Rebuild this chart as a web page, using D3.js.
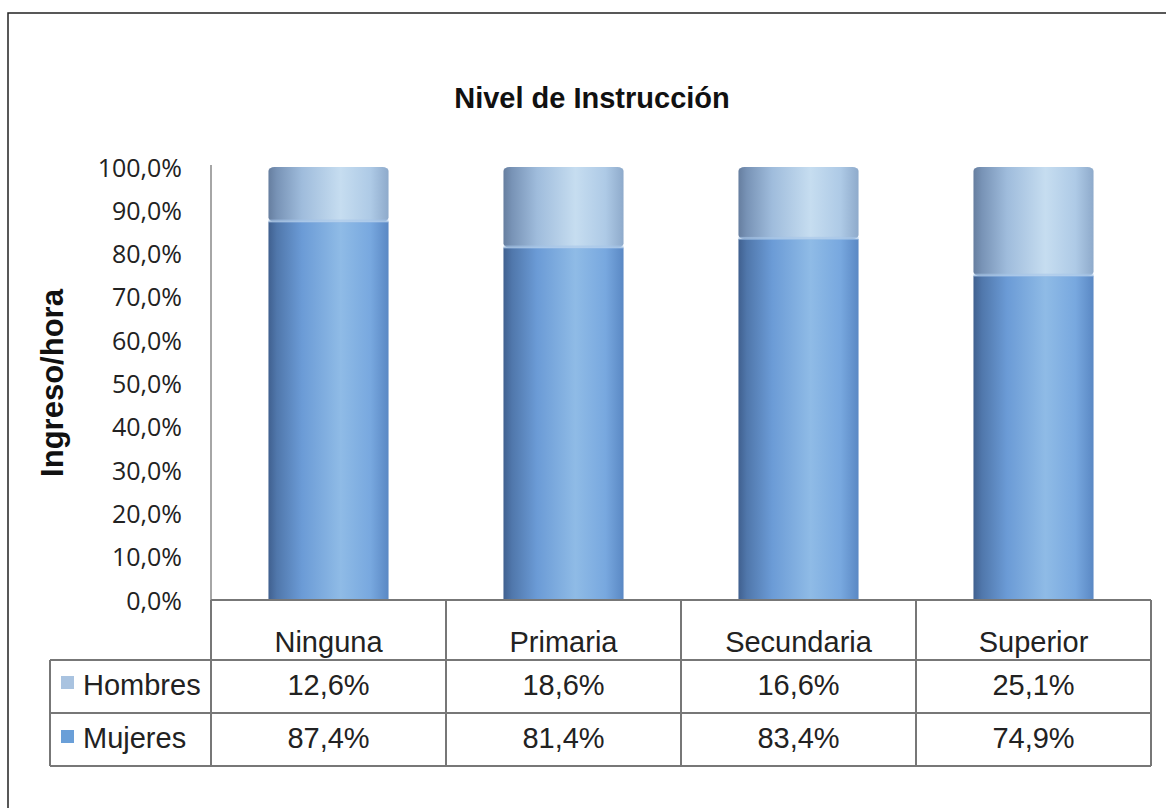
<!DOCTYPE html>
<html><head><meta charset="utf-8">
<script src="https://cdn.jsdelivr.net/npm/d3@7"></script>
<style>body{margin:0;background:#fff}svg{display:block}</style>
</head><body>
<script>
const categories = ["Ninguna","Primaria","Secundaria","Superior"];
const series = ["Hombres","Mujeres"];
const hombres = [12.6, 18.6, 16.6, 25.1];
const mujeres = [87.4, 81.4, 83.4, 74.9];
const yTicks = [0,10,20,30,40,50,60,70,80,90,100];
const title = "Nivel de Instrucción";
const yTitle = "Ingreso/hora";

const W=1166,H=808;
const svg=d3.select("body").append("svg").attr("width",W).attr("height",H);
svg.append("rect").attr("x",8).attr("y",13).attr("width",W+10).attr("height",H+10).attr("fill","#fff").attr("stroke","#222").attr("stroke-width",1.5);

const x=d3.scaleBand().domain(categories).range([211,1151]).paddingInner(0.489).paddingOuter(0.2445);
const y=d3.scaleLinear().domain([0,100]).range([600,167]);
const defs=svg.append("defs");
function grad(id,stops){const g=defs.append("linearGradient").attr("id",id).attr("x1",0).attr("x2",1).attr("y1",0).attr("y2",0);
 stops.forEach(s=>g.append("stop").attr("offset",s[0]).attr("stop-color",s[1]));}
grad("gM",[[0,"#40608f"],[0.07,"#5077ab"],[0.28,"#6b9bd6"],[0.6,"#8fbbe6"],[0.85,"#78a8df"],[1,"#5a88c4"]]);
grad("gH",[[0,"#667e9f"],[0.07,"#7893b6"],[0.28,"#9fbcdc"],[0.6,"#c6ddf0"],[0.85,"#aecaE6"],[1,"#8eaacb"]]);

// axis
svg.append("line").attr("x1",211).attr("x2",211).attr("y1",165).attr("y2",767).attr("stroke","#888").attr("stroke-width",1.5);
const fmt=v=>v.toFixed(1).replace(".",",")+"%";
svg.selectAll(".tk").data(yTicks).enter().append("text")
 .attr("x",182).attr("y",d=>y(d)+9.5).attr("text-anchor","end")
 .attr("font-family","Open Sans, sans-serif").attr("font-size",25).attr("fill","#222").text(fmt);

// bars
const bw=x.bandwidth();
const g=svg.append("g");
categories.forEach((c,i)=>{
  const x0=x(c);
  g.append("rect").attr("x",x0).attr("y",y(mujeres[i])).attr("width",bw).attr("height",y(0)-y(mujeres[i])).attr("fill","url(#gM)");
  g.append("rect").attr("x",x0).attr("y",y(100)).attr("width",bw).attr("height",y(mujeres[i])-y(100)).attr("fill","url(#gH)").attr("rx",6).attr("ry",4);
  g.append("rect").attr("x",x0).attr("y",y(mujeres[i])-2).attr("width",bw).attr("height",3).attr("fill","#a6c6ea").attr("opacity",0.6);
});

// table
const gridC="#777";
const tl=50;
svg.append("line").attr("x1",211).attr("x2",1151).attr("y1",600).attr("y2",600).attr("stroke",gridC).attr("stroke-width",2);
[660,713,766].forEach(yy=>svg.append("line").attr("x1",tl).attr("x2",1151).attr("y1",yy).attr("y2",yy).attr("stroke",gridC).attr("stroke-width",2));
svg.append("line").attr("x1",tl).attr("x2",tl).attr("y1",660).attr("y2",766).attr("stroke",gridC).attr("stroke-width",2);
[211].concat(categories.map(c=>x(c)+bw/2+x.step()/2)).forEach(xx=>svg.append("line").attr("x1",xx).attr("x2",xx).attr("y1",600).attr("y2",766).attr("stroke",gridC).attr("stroke-width",2));
const tf="Liberation Sans, Arial, sans-serif";
svg.selectAll(".cat").data(categories).enter().append("text").attr("x",d=>x(d)+bw/2).attr("y",652)
 .attr("text-anchor","middle").attr("font-family",tf).attr("font-size",29).attr("fill","#222").text(d=>d);
const vals=[hombres,mujeres];
const rowY=[695,748];
series.forEach((s,j)=>{
  svg.append("text").attr("x",83).attr("y",rowY[j]).attr("font-family",tf).attr("font-size",29).attr("fill","#222").text(s);
  categories.forEach((c,i)=>svg.append("text").attr("x",x(c)+bw/2).attr("y",rowY[j]).attr("text-anchor","middle")
    .attr("font-family",tf).attr("font-size",29).attr("fill","#222").text(vals[j][i].toFixed(1).replace(".",",")+"%"));
});
svg.append("rect").attr("x",61).attr("y",676).attr("width",13).attr("height",13).attr("fill","#a9c3e0");
svg.append("rect").attr("x",61).attr("y",730).attr("width",13).attr("height",13).attr("fill","#6a9fd8");

svg.append("text").attr("x",592).attr("y",108).attr("text-anchor","middle").attr("font-family",tf).attr("font-weight","bold").attr("font-size",29).attr("fill","#111").text(title);
svg.append("text").attr("transform","translate(63,383) rotate(-90)").attr("text-anchor","middle").attr("font-family",tf).attr("font-weight","bold").attr("font-size",31).attr("fill","#111").text(yTitle);
</script>
</body></html>
